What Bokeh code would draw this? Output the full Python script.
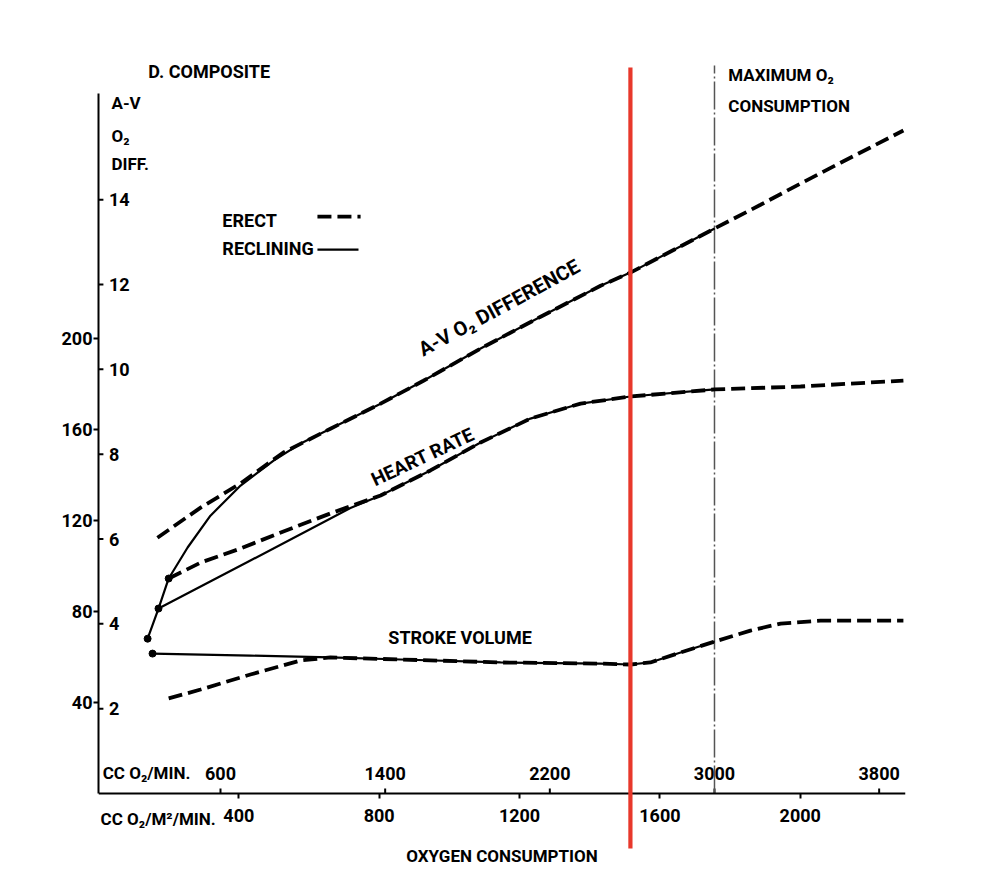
from bokeh.plotting import figure
from bokeh.models import Range1d, FixedTicker, Label, BoxAnnotation
from bokeh.core.properties import value
from bokeh.embed import file_html
from bokeh.resources import INLINE

# ---------------- data (x in CC O2/M^2/MIN) ----------------
# A-V O2 difference (vol %)
av_erect_x = [168, 291, 405, 527, 661, 804, 926, 1089, 1260, 1431, 1516, 1756, 1887, 2001, 2115, 2200, 2294]
av_erect_y = [6.03, 6.74, 7.31, 8.04, 8.60, 9.19, 9.73, 10.49, 11.24, 11.97, 12.28, 13.32, 13.88, 14.38, 14.87, 15.23, 15.63]
av_recl_x = [140, 171, 200, 254, 319, 405, 499, 576, 661, 804, 926, 1089, 1260, 1431, 1516, 1756]
av_recl_y = [3.65, 4.36, 5.07, 5.80, 6.55, 7.26, 7.85, 8.25, 8.60, 9.19, 9.73, 10.49, 11.24, 11.97, 12.28, 13.32]

# Heart rate (beats/min)
hr_erect_x = [200, 291, 405, 527, 661, 804, 946, 1089, 1231, 1374, 1516, 1756, 2001, 2294]
hr_erect_y = [94.5, 101.5, 107.7, 115.2, 123.1, 131.0, 142.0, 154.3, 164.8, 171.4, 174.5, 177.6, 178.9, 181.5]
hr_recl_x = [171, 433, 718, 804, 946, 1089, 1231, 1374, 1516, 1756]
hr_recl_y = [81.3, 102.4, 125.5, 131.0, 142.0, 154.3, 164.8, 171.4, 174.5, 177.6]

# Stroke volume (ml)
sv_erect_x = [200, 291, 433, 576, 661, 861, 1146, 1431, 1516, 1573, 1659, 1756, 1858, 1944, 2058, 2294]
sv_erect_y = [41.8, 45.7, 52.3, 58.5, 59.8, 58.9, 57.6, 57.1, 56.7, 57.6, 62.0, 66.8, 71.6, 74.7, 76.0, 76.0]
sv_recl_x = [154, 433, 661, 861, 1146, 1431, 1516, 1573, 1659, 1756]
sv_recl_y = [61.5, 60.6, 59.8, 58.9, 57.6, 57.1, 56.7, 57.6, 62.0, 66.8]

# axes ticks
hr_ticks = [40, 80, 120, 160, 200]
av_ticks = [2, 4, 6, 8, 10, 12, 14]
m2_ticks = [400, 800, 1200, 1600, 2000]
cc_ticks = [600, 1400, 2200, 3000, 3800]
max_o2_cc = 3000
red_mark_x = 1516

FONT = "Roboto"
F = value(FONT)

p = figure(width=975, height=885, output_backend="svg", toolbar_location=None,
           x_range=Range1d(0, 2300), y_range=Range1d(-38.24, 322.2),
           min_border_left=98, min_border_right=70, min_border_top=60, min_border_bottom=5)
p.extra_y_ranges = {"av": Range1d(-2.05, 17.28)}
p.extra_x_ranges = {"cc": Range1d(7.3, 3928)}
p.outline_line_color = None
p.grid.visible = False

# left (H.R./S.V.) axis
ya = p.yaxis[0]
ya.ticker = FixedTicker(ticks=hr_ticks)
ya.bounds = (0, 307.7)
ya.axis_line_width = 2
ya.major_tick_out = 5
ya.major_tick_in = 0
ya.major_tick_line_width = 2
ya.minor_tick_out = 0
ya.minor_tick_in = 0
ya.major_label_standoff = 1
ya.major_label_text_font = FONT
ya.major_label_text_font_style = "bold"
ya.major_label_text_font_size = "18px"
ya.major_label_text_color = "black"

# bottom (CC O2/M2/MIN) axis, drawn at y = 0 inside the frame
xa = p.xaxis[0]
xa.fixed_location = 0
xa.ticker = FixedTicker(ticks=m2_ticks)
xa.axis_line_width = 2
xa.major_tick_out = 5
xa.major_tick_in = 0
xa.major_tick_line_width = 2
xa.minor_tick_out = 0
xa.minor_tick_in = 0
xa.major_label_standoff = 10
xa.major_label_text_font = FONT
xa.major_label_text_font_style = "bold"
xa.major_label_text_font_size = "18px"
xa.major_label_text_color = "black"
xa.axis_label = "OXYGEN CONSUMPTION"
xa.axis_label_text_font = FONT
xa.axis_label_text_font_style = "bold"
xa.axis_label_text_font_size = "17px"
xa.axis_label_text_color = "black"
xa.axis_label_standoff = 21

# A-V O2 scale (inner side of the same axis line)
p.segment(x0=[0] * len(av_ticks), y0=av_ticks, x1=[14] * len(av_ticks), y1=av_ticks,
          y_range_name="av", line_color="black", line_width=2)
p.text(x=[30] * len(av_ticks), y=av_ticks, text=[str(t) for t in av_ticks], y_range_name="av",
       text_font=F, text_font_style="bold", text_font_size="18px",
       text_align="left", text_baseline="middle", text_color="black")

# cc O2/min scale (inner side of the bottom axis line)
p.segment(x0=cc_ticks, y0=[0] * len(cc_ticks), x1=cc_ticks, y1=[2.2] * len(cc_ticks),
          x_range_name="cc", line_color="black", line_width=2)
p.text(x=cc_ticks, y=[8.8] * len(cc_ticks), text=[str(t) for t in cc_ticks], x_range_name="cc",
       text_font=F, text_font_style="bold", text_font_size="18px",
       text_align="center", text_baseline="middle", text_color="black")

# maximum O2 consumption line
p.segment(x0=[max_o2_cc], y0=[0], x1=[max_o2_cc], y1=[320], x_range_name="cc",
          line_color="#555555", line_width=1.5, line_dash="28 3 2 3")

# curves
DASH = "14 6"
p.line(av_recl_x, av_recl_y, y_range_name="av", line_color="black", line_width=2.2)
p.line(av_erect_x, av_erect_y, y_range_name="av", line_color="black", line_width=3.8, line_dash=DASH)
p.line(hr_recl_x, hr_recl_y, line_color="black", line_width=2.2)
p.line(hr_erect_x, hr_erect_y, line_color="black", line_width=3.8, line_dash=DASH)
p.line(sv_recl_x, sv_recl_y, line_color="black", line_width=2.2)
p.line(sv_erect_x, sv_erect_y, line_color="black", line_width=3.8, line_dash=DASH)

# resting points
p.scatter([av_recl_x[0]], [av_recl_y[0]], y_range_name="av", size=7, color="black")
p.scatter([hr_recl_x[0], hr_erect_x[0], sv_recl_x[0]], [hr_recl_y[0], hr_erect_y[0], sv_recl_y[0]],
          size=7, color="black")

# red marker line
p.add_layout(BoxAnnotation(left=red_mark_x - 6, right=red_mark_x + 6, bottom=-24.2, top=319.1,
                           fill_color="#e8382b", fill_alpha=1.0, line_color=None, level="overlay"))


def lab(x, y, text, size="18px", align="left", baseline="middle", angle=0.0, y_range_name="default"):
    p.add_layout(Label(x=x, y=y, text=text, text_font=FONT, text_font_style="bold",
                       text_font_size=size, text_align=align, text_baseline=baseline,
                       angle=angle, y_range_name=y_range_name, text_color="black"))


lab(142, 317.4, "D. COMPOSITE", size="18px")
lab(37, 303.3, "A-V", size="17px")
lab(37, 288.8, "O\u2082", size="17px")
lab(37, 276.5, "DIFF.", size="17px")
lab(-17, 227.7, "H.R.", size="17px", align="right")
lab(-17, 215.0, "S.V.", size="17px", align="right")
lab(1795, 316.0, "MAXIMUM O\u2082", size="17px")
lab(1795, 302.0, "CONSUMPTION", size="17px")
lab(12, 8.8, "CC O\u2082/MIN.", size="17px")
lab(6, -11.0, "CC O\u2082/M\u00b2/MIN.", size="17px")

# legend
lab(353, 251.9, "ERECT", size="18px")
lab(353, 239.6, "RECLINING", size="18px")
p.segment(x0=[624], y0=[253.6], x1=[747], y1=[253.6], line_color="black", line_width=3.8, line_dash=DASH)
p.segment(x0=[624], y0=[239.1], x1=[741], y1=[239.1], line_color="black", line_width=2.2)

# curve labels
lab(932, 190.0, "A-V O\u2082 DIFFERENCE", size="20px", baseline="bottom", angle=0.497)
lab(795, 133.0, "HEART RATE", size="19px", baseline="bottom", angle=0.44)
lab(826, 68.6, "STROKE VOLUME", size="18px")

open("out.html", "w").write(file_html(p, INLINE))
